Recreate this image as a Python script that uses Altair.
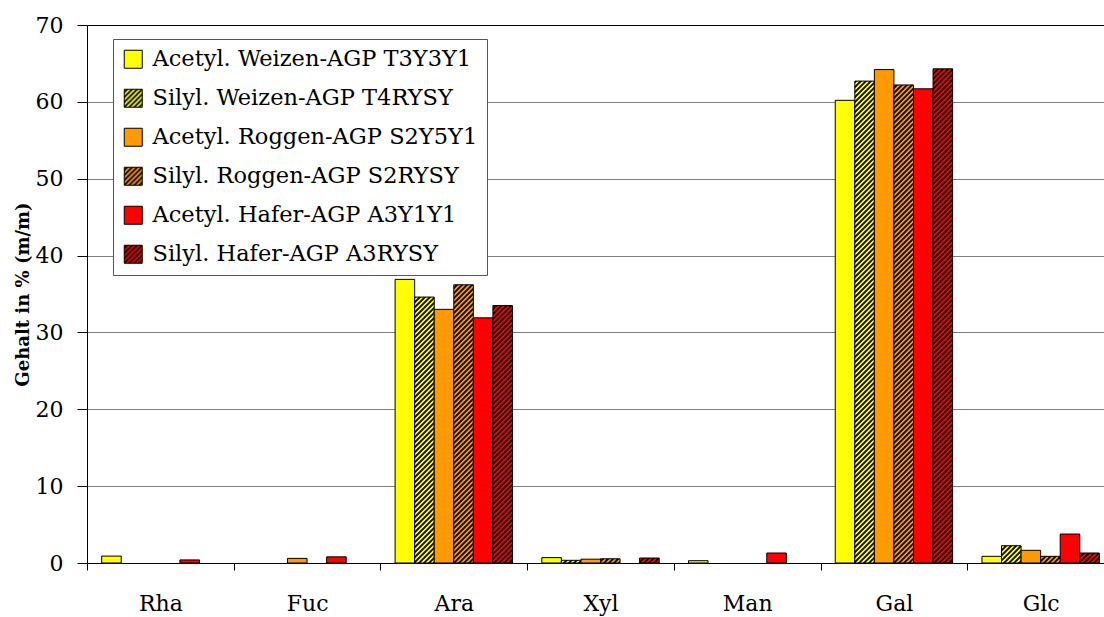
import altair as alt
import pandas as pd
import jinja2

# ---------------- data ----------------
categories = ["Rha", "Fuc", "Ara", "Xyl", "Man", "Gal", "Glc"]
series = [
    "Acetyl. Weizen-AGP T3Y3Y1",
    "Silyl. Weizen-AGP T4RYSY",
    "Acetyl. Roggen-AGP S2Y5Y1",
    "Silyl. Roggen-AGP S2RYSY",
    "Acetyl. Hafer-AGP A3Y1Y1",
    "Silyl. Hafer-AGP A3RYSY",
]
acetyl_weizen = [0.9, 0.0, 36.9, 0.7, 0.3, 60.2, 0.87]
silyl_weizen = [0.0, 0.0, 34.6, 0.35, 0.0, 62.7, 2.25]
acetyl_roggen = [0.0, 0.6, 33.0, 0.5, 0.0, 64.2, 1.65]
silyl_roggen = [0.0, 0.0, 36.2, 0.55, 0.0, 62.2, 0.87]
acetyl_hafer = [0.4, 0.8, 31.9, 0.0, 1.3, 61.7, 3.77]
silyl_hafer = [0.0, 0.0, 33.5, 0.65, 0.0, 64.3, 1.3]
y_ticks = [0, 10, 20, 30, 40, 50, 60, 70]
y_title = "Gehalt in % (m/m)"

fills = ["#FFFF00", "url(#hatchYellow)", "#FF9900",
         "url(#hatchOrange)", "#FF0000", "url(#hatchRed)"]

values = [acetyl_weizen, silyl_weizen, acetyl_roggen,
          silyl_roggen, acetyl_hafer, silyl_hafer]
rows = []
for s, vals in zip(series, values):
    for c, v in zip(categories, vals):
        rows.append({"cat": c, "series": s, "value": v})
df = pd.DataFrame(rows)

FONT = "DejaVu Serif"

bars = (
    alt.Chart(df)
    .transform_filter(alt.datum.value > 0)
    .mark_bar(stroke="black", strokeWidth=1)
    .encode(
        x=alt.X(
            "cat:N",
            sort=categories,
            title=None,
            scale=alt.Scale(paddingInner=0, paddingOuter=0, range=[0, 1027]),
            axis=alt.Axis(
                labelAngle=0,
                tickBand="extent",
                tickSize=7,
                labelPadding=23,
                labelFont=FONT,
                labelFontSize=22,
                labelColor="black",
                domainColor="black",
                tickColor="black",
                grid=False,
            ),
        ),
        xOffset=alt.XOffset("series:N", sort=series,
                            scale=alt.Scale(paddingInner=0, paddingOuter=0.75)),
        y=alt.Y(
            "value:Q",
            title=y_title,
            scale=alt.Scale(domain=[0, 70], nice=False),
            axis=alt.Axis(
                values=y_ticks,
                tickSize=10,
                labelPadding=14,
                labelFont=FONT,
                labelFontSize=22,
                labelColor="black",
                titleFont=FONT,
                titleFontSize=18,
                titleFontWeight="bold",
                titleColor="black",
                titlePadding=3,
                domainColor="black",
                tickColor="black",
                gridColor={"condition": {"test": "datum.value == 70", "value": "black"},
                           "value": "#808080"},
                gridWidth=1,
            ),
        ),
        color=alt.Color(
            "series:N",
            sort=series,
            scale=alt.Scale(domain=series, range=fills),
            legend=alt.Legend(
                title=None,
                orient="none",
                legendX=26,
                legendY=14,
                padding=9,
                rowPadding=16,
                symbolType="square",
                symbolSize=324,
                symbolStrokeColor="black",
                symbolStrokeWidth=1,
                labelFont=FONT,
                labelFontSize=22.5,
                labelColor="black",
                labelLimit=0,
                labelOffset=8,
                fillColor="white",
                strokeColor="#555555",
            ),
        ),
    )
)

chart = (
    bars.properties(
        width=1017,
        height=538,
        autosize=alt.AutoSizeParams(type="none"),
        padding={"left": 79, "top": 17, "right": 0, "bottom": 54},
    )
    .configure_view(stroke=None)
    .configure(background="white")
)

DEFS = """
<svg width="0" height="0" style="position:absolute;width:0;height:0" aria-hidden="true">
 <defs>
  <pattern id="hatchYellow" patternUnits="userSpaceOnUse" width="5" height="5">
   <rect width="5" height="5" fill="#FFFF00"/>
   <path d="M-1,1 l2,-2 M0,5 l5,-5 M4,6 l2,-2" stroke="#000" stroke-width="1.8"/>
  </pattern>
  <pattern id="hatchOrange" patternUnits="userSpaceOnUse" width="5" height="5">
   <rect width="5" height="5" fill="#FF9900"/>
   <path d="M-1,1 l2,-2 M0,5 l5,-5 M4,6 l2,-2" stroke="#000" stroke-width="1.8"/>
  </pattern>
  <pattern id="hatchRed" patternUnits="userSpaceOnUse" width="5" height="5">
   <rect width="5" height="5" fill="#FF0000"/>
   <path d="M-1,1 l2,-2 M0,5 l5,-5 M4,6 l2,-2" stroke="#000" stroke-width="1.8"/>
  </pattern>
 </defs>
</svg>
"""

EMBED = {"renderer": "svg", "actions": False}
html = chart.to_html(embed_options=EMBED)
html = html.replace("<body>", "<body>\n" + DEFS, 1)
html = html.replace("<style>", "<style>\n    body { overflow: hidden; margin: 8px 0 0 8px; }", 1)
template = jinja2.Template("{% raw %}" + html + "{% endraw %}")

chart.save("out.html", embed_options=EMBED, template=template)
